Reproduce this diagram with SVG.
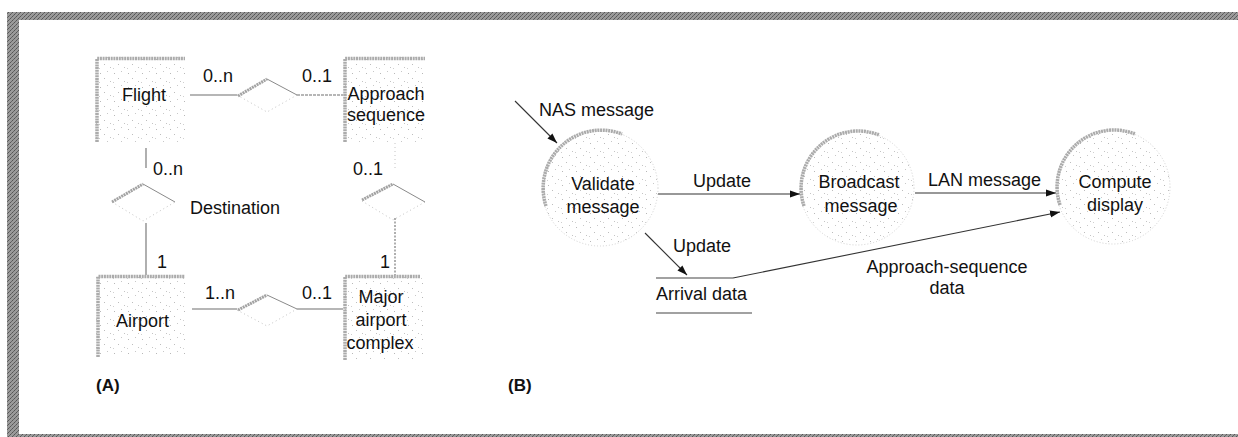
<svg xmlns="http://www.w3.org/2000/svg" width="1238" height="437" viewBox="0 0 1238 437">
  <defs>
    <!-- light halftone speckle used inside entities and processes -->
    <pattern id="speckle" width="14" height="14" patternUnits="userSpaceOnUse">
      <rect x="2" y="3" width="1" height="1" fill="#b8b8b8"/>
      <rect x="9" y="1" width="1" height="1" fill="#c8c8c8"/>
      <rect x="6" y="8" width="1" height="1" fill="#bdbdbd"/>
      <rect x="12" y="11" width="1" height="1" fill="#c4c4c4"/>
      <rect x="1" y="12" width="1" height="1" fill="#cfcfcf"/>
    </pattern>
    <!-- dark halftone for the frame bands -->
    <pattern id="halftone" width="4" height="4" patternUnits="userSpaceOnUse">
      <rect width="4" height="4" fill="#9a9a9a"/>
      <rect x="0" y="0" width="1" height="1" fill="#555"/>
      <rect x="2" y="2" width="1" height="1" fill="#555"/>
      <rect x="1" y="3" width="1" height="1" fill="#666"/>
      <rect x="3" y="1" width="1" height="1" fill="#666"/>
    </pattern>
    <marker id="arrow" viewBox="0 0 10 10" refX="10" refY="5" markerWidth="10" markerHeight="10" markerUnits="userSpaceOnUse" orient="auto">
      <path d="M0,1.5 L10,5 L0,8.5 Z" fill="#111"/>
    </marker>
  </defs>
  <style>
    text { font-family: "Liberation Sans", Arial, sans-serif; font-size: 18px; fill: #111; }
    .tag { font-weight: bold; font-size: 17px; }
    .mid { text-anchor: middle; }
    .boxfill { fill: url(#speckle); stroke: none; }
    .shade { fill: none; stroke: #ababab; stroke-width: 3.5; stroke-dasharray: 2 0.7; }
    .rel { fill: none; stroke: #6e6e6e; stroke-width: 1.1; }
    .faint { fill: none; stroke: #c4c4c4; stroke-width: 1; stroke-dasharray: 1 3; }
    .wedge { fill: none; stroke: #a3a3a3; stroke-width: 3; stroke-dasharray: 2 0.7; }
    .wedgeThin { fill: none; stroke: #8a8a8a; stroke-width: 1; }
    .flow { fill: none; stroke: #333; stroke-width: 1.1; marker-end: url(#arrow); }
    .bubble { fill: url(#speckle); stroke: #d2d2d2; stroke-width: 1; stroke-dasharray: 1 2; }
    .bubbleShade { fill: none; stroke: #ababab; stroke-width: 3.5; stroke-dasharray: 2 0.7; }
    .store { stroke: #444; stroke-width: 1.1; }
  </style>

  <!-- page frame -->
  <g id="frame">
    <rect x="7" y="12" width="1231" height="8" fill="url(#halftone)"/>
    <rect x="7" y="12" width="12" height="425" fill="url(#halftone)"/>
    <rect x="7" y="434" width="1231" height="3" fill="url(#halftone)"/>
  </g>

  <!-- ===== (A) entity-relationship part ===== -->
  <g id="connectors-a">
    <!-- Flight to Approach sequence -->
    <line class="rel" x1="190" y1="95" x2="237" y2="95"/>
    <path class="faint" d="M237,95 L267,112 L297,95"/>
    <path class="wedge" d="M238,96 L267,79"/>
    <path class="wedgeThin" d="M267,79 L297,95"/>
    <line class="rel" x1="297" y1="95" x2="343" y2="95" stroke-dasharray="3 1"/>
    <text x="203" y="82">0..n</text>
    <text x="302" y="82">0..1</text>

    <!-- Flight to Airport (Destination) -->
    <line class="rel" x1="146" y1="148" x2="146" y2="168"/>
    <path class="faint" d="M112,202 L143,221 L175,202"/>
    <path class="wedge" d="M112,202 L143,184"/>
    <path class="wedgeThin" d="M143,184 L175,202"/>
    <line class="rel" x1="146" y1="223" x2="146" y2="275"/>
    <text x="153" y="175">0..n</text>
    <text x="190" y="214">Destination</text>
    <text x="157" y="268">1</text>

    <!-- Approach sequence to Major airport complex -->
    <line class="faint" x1="395" y1="143" x2="395" y2="170"/>
    <path class="faint" d="M362,201 L393,220 L425,202"/>
    <path class="wedge" d="M362,200 L393,184"/>
    <path class="wedgeThin" d="M393,184 L425,202"/>
    <line class="rel" x1="395" y1="218" x2="395" y2="275" stroke="#9a9a9a" stroke-dasharray="2 1.5"/>
    <text x="353" y="175">0..1</text>
    <text x="380" y="268">1</text>

    <!-- Airport to Major airport complex -->
    <line class="rel" x1="192" y1="309" x2="237" y2="309"/>
    <path class="faint" d="M237,310 L267,326 L297,309"/>
    <path class="wedge" d="M238,310 L267,295"/>
    <path class="wedgeThin" d="M267,295 L297,309"/>
    <line class="rel" x1="297" y1="309" x2="343" y2="309"/>
    <text x="205" y="299">1..n</text>
    <text x="302" y="299">0..1</text>
  </g>

  <g id="flight">
    <rect class="boxfill" x="95" y="57" width="90" height="85"/>
    <path class="shade" d="M97,142 L97,58.5 L185,58.5"/>
    <text x="122" y="101">Flight</text>
  </g>

  <g id="approach-sequence">
    <rect class="boxfill" x="343" y="57" width="82" height="85"/>
    <path class="shade" d="M345,142 L345,58.5 L425,58.5"/>
    <text class="mid" x="386" y="100">Approach</text>
    <text class="mid" x="386" y="121">sequence</text>
  </g>

  <g id="airport">
    <rect class="boxfill" x="96" y="275" width="89" height="82"/>
    <path class="shade" d="M98,357 L98,276.5 L185,276.5"/>
    <text x="116" y="327">Airport</text>
  </g>

  <g id="major-airport-complex">
    <rect class="boxfill" x="343" y="275" width="80" height="85"/>
    <path class="shade" d="M345,360 L345,276.5 L420,276.5"/>
    <text class="mid" x="381" y="303">Major</text>
    <text class="mid" x="381" y="326">airport</text>
    <text class="mid" x="380" y="349">complex</text>
  </g>

  <text class="tag" x="96" y="391">(A)</text>

  <!-- ===== (B) data-flow part ===== -->
  <g id="connectors-b">
    <line class="flow" x1="515" y1="101" x2="557" y2="143"/>
    <text x="539" y="116">NAS message</text>

    <line class="flow" x1="658" y1="194" x2="800" y2="194"/>
    <text x="693" y="187">Update</text>

    <line class="flow" x1="915" y1="193" x2="1056" y2="193"/>
    <text x="928" y="186">LAN message</text>

    <line class="flow" x1="645" y1="233" x2="687" y2="275"/>
    <text x="673" y="252">Update</text>

    <line class="flow" x1="733" y1="278" x2="1060" y2="212"/>
    <text class="mid" x="947" y="273">Approach-sequence</text>
    <text class="mid" x="947" y="294">data</text>
  </g>

  <g id="validate-message">
    <circle class="bubble" cx="600" cy="188" r="58"/>
    <path class="bubbleShade" d="M546,206 A58,58 0 0 1 622,134"/>
    <text class="mid" x="603" y="190">Validate</text>
    <text class="mid" x="603" y="213">message</text>
  </g>

  <g id="broadcast-message">
    <circle class="bubble" cx="857" cy="188" r="57"/>
    <path class="bubbleShade" d="M804,206 A57,57 0 0 1 879,135"/>
    <text class="mid" x="859" y="188">Broadcast</text>
    <text class="mid" x="861" y="212">message</text>
  </g>

  <g id="compute-display">
    <circle class="bubble" cx="1113" cy="187" r="57"/>
    <path class="bubbleShade" d="M1060,205 A57,57 0 0 1 1135,134"/>
    <text class="mid" x="1115" y="188">Compute</text>
    <text class="mid" x="1115" y="211">display</text>
  </g>

  <g id="arrival-data">
    <line class="store" x1="656" y1="278" x2="733" y2="278"/>
    <line class="store" x1="656" y1="313" x2="752" y2="313"/>
    <text x="656" y="300">Arrival data</text>
  </g>

  <text class="tag" x="508" y="391">(B)</text>
</svg>
